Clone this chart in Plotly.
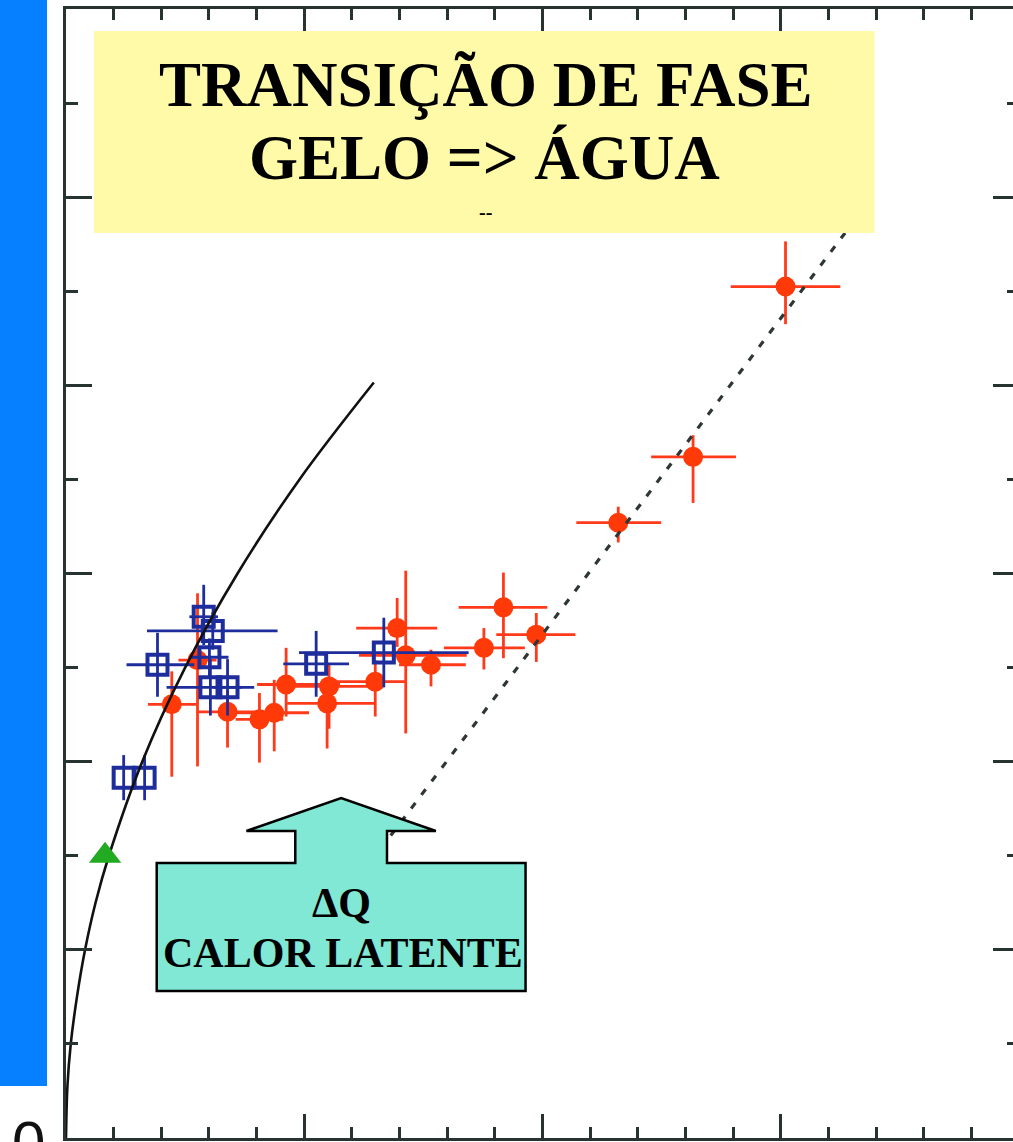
import plotly.graph_objects as go

# ---------------- data ----------------
# red filled circles: excitation energy (x) vs temperature (y)
red_x = [2.22, 2.76, 3.39, 4.06, 4.37, 4.62, 5.52, 5.48, 6.49, 6.95, 7.13, 7.66, 8.77, 9.18, 9.87, 11.59, 13.16, 15.10]
red_y = [4.61, 5.08, 4.53, 4.45, 4.52, 4.82, 4.80, 4.62, 4.85, 5.42, 5.13, 5.03, 5.21, 5.64, 5.35, 6.54, 7.24, 9.05]
red_xerr_minus = [0.50, 0.40, 0.63, 0.50, 0.94, 0.61, 0.94, 0.84, 0.96, 0.86, 0.98, 0.67, 0.84, 0.94, 0.84, 0.88, 0.88, 1.15]
red_xerr_plus = [0.52, 0.40, 1.00, 0.50, 0.73, 1.13, 1.11, 1.00, 0.65, 0.84, 1.28, 0.73, 0.86, 0.92, 0.82, 0.90, 0.90, 1.15]
red_yerr_plus = [0.35, 0.71, 0.23, 0.28, 0.35, 0.39, 0.25, 0.17, 0.23, 0.32, 0.90, 0.16, 0.21, 0.37, 0.23, 0.17, 0.23, 0.48]
red_yerr_minus = [0.77, 1.13, 0.38, 0.46, 0.41, 0.34, 0.45, 0.48, 0.37, 0.20, 0.83, 0.23, 0.23, 0.54, 0.29, 0.21, 0.49, 0.40]

# blue open squares
blue_x = [1.21, 1.65, 1.92, 2.89, 3.08, 3.01, 3.03, 3.39, 5.25, 6.67]
blue_y = [3.83, 3.83, 5.03, 5.54, 5.39, 5.11, 4.79, 4.79, 5.04, 5.16]
blue_xerr_minus = [0.0, 0.0, 0.65, 0.30, 1.38, 0.40, 0.92, 0.30, 0.69, 1.78]
blue_xerr_plus = [0.0, 0.0, 0.77, 0.30, 1.36, 0.40, 0.92, 0.30, 0.69, 1.78]
blue_yerr_plus = [0.24, 0.24, 0.34, 0.34, 0.20, 0.20, 0.30, 0.30, 0.35, 0.37]
blue_yerr_minus = [0.24, 0.24, 0.34, 0.30, 0.20, 0.20, 0.30, 0.30, 0.35, 0.37]

# green triangle
green_x = [0.82]
green_y = [3.00]

# solid black curve (Fermi-gas like)
curve_x = [0.0, 0.03, 0.10, 0.23, 0.40, 0.62, 0.90, 1.60, 2.50, 3.60, 4.90, 6.46]
curve_y = [0.0, 0.55, 1.00, 1.50, 2.00, 2.50, 3.00, 4.00, 5.00, 6.00, 7.00, 8.03]

# dashed straight line
dash_x = [6.60, 16.35]
dash_y = [3.07, 9.62]

# axis settings
x_range = [0, 20]
y_range = [0, 12]

title_line1 = "TRANSIÇÃO DE FASE"
title_line2 = "GELO => ÁGUA"
box_line1 = "ΔQ"
box_line2 = "CALOR LATENTE"

# ---------------- layout geometry ----------------
# the frame's right edge lies just beyond the visible window, as in the reference
W, H = 1022, 1142
ML, MR, MT, MB = 66, 0, 9, 4
PW, PH = W - ML - MR, H - MT - MB


def pxx(px):
    return (px - ML) / PW


def pxy(py):
    return (H - MB - py) / PH


RED = "#FF3A08"
RED_ERR = "#FF3A1A"
BLUE = "#1E2D9C"
AX = "#263330"

fig = go.Figure()

fig.add_trace(go.Scatter(
    x=red_x, y=red_y, mode="markers",
    marker=dict(color=RED, size=20, line=dict(width=0)),
    error_x=dict(type="data", symmetric=False, array=red_xerr_plus, arrayminus=red_xerr_minus,
                 color=RED_ERR, thickness=2.8, width=0),
    error_y=dict(type="data", symmetric=False, array=red_yerr_plus, arrayminus=red_yerr_minus,
                 color=RED_ERR, thickness=2.8, width=0),
    showlegend=False, hoverinfo="skip"))

fig.add_trace(go.Scatter(
    x=blue_x, y=blue_y, mode="markers",
    marker=dict(symbol="square-open", color=BLUE, size=20, line=dict(width=4, color=BLUE)),
    error_x=dict(type="data", symmetric=False, array=blue_xerr_plus, arrayminus=blue_xerr_minus,
                 color=BLUE, thickness=2.8, width=0),
    error_y=dict(type="data", symmetric=False, array=blue_yerr_plus, arrayminus=blue_yerr_minus,
                 color=BLUE, thickness=2.8, width=0),
    showlegend=False, hoverinfo="skip"))

fig.add_trace(go.Scatter(
    x=curve_x, y=curve_y, mode="lines",
    line=dict(color="#111111", width=2.6, shape="spline", smoothing=1.0),
    showlegend=False, hoverinfo="skip"))

fig.add_trace(go.Scatter(
    x=dash_x, y=dash_y, mode="lines",
    line=dict(color="#2E3636", width=3.2, dash="7px,10px"),
    showlegend=False, hoverinfo="skip"))

fig.add_trace(go.Scatter(
    x=green_x, y=green_y, mode="markers",
    marker=dict(symbol="triangle-up", color="#22AA22", size=28, line=dict(width=0)),
    showlegend=False, hoverinfo="skip"))

# ---------------- decorations ----------------
shapes = []
# blue bar on the left
shapes.append(dict(type="rect", xref="paper", yref="paper",
                   x0=pxx(-2), x1=pxx(47), y0=pxy(1086), y1=pxy(-2),
                   fillcolor="#0780FF", line=dict(width=0), layer="above"))
# yellow title box
shapes.append(dict(type="rect", xref="paper", yref="paper",
                   x0=pxx(94), x1=pxx(877), y0=pxy(233), y1=pxy(31),
                   fillcolor="#FFFAA8", line=dict(width=0), layer="above"))
# teal arrow box
pts = [(157, 863), (296, 863), (296, 831), (247, 831), (342, 798), (437, 831),
       (388, 831), (388, 863), (527, 863), (527, 991), (157, 991)]
path = "M " + " L ".join(f"{pxx(a):.5f},{pxy(b):.5f}" for a, b in pts) + " Z"
shapes.append(dict(type="path", xref="paper", yref="paper", path=path,
                   fillcolor="#80E8D4", line=dict(color="black", width=2.5), layer="above"))

serif = "Liberation Serif, Times New Roman, serif"
annotations = [
    dict(text=title_line1, x=pxx(487), y=pxy(85), xref="paper", yref="paper",
         showarrow=False, xanchor="center", yanchor="middle",
         font=dict(family=serif, size=63, color="black", weight="bold")),
    dict(text=title_line2, x=pxx(486), y=pxy(158), xref="paper", yref="paper",
         showarrow=False, xanchor="center", yanchor="middle",
         font=dict(family=serif, size=63, color="black", weight="bold")),
    dict(text="--", x=pxx(487), y=pxy(212), xref="paper", yref="paper",
         showarrow=False, xanchor="center", yanchor="middle",
         font=dict(family=serif, size=20, color="black", weight="bold")),
    dict(text=box_line1, x=pxx(342), y=pxy(903), xref="paper", yref="paper",
         showarrow=False, xanchor="center", yanchor="middle",
         font=dict(family=serif, size=42, color="black", weight="bold")),
    dict(text=box_line2, x=pxx(344), y=pxy(953), xref="paper", yref="paper",
         showarrow=False, xanchor="center", yanchor="middle",
         font=dict(family=serif, size=42, color="black", weight="bold")),
    dict(text="0", x=pxx(28), y=pxy(1142), xref="paper", yref="paper",
         showarrow=False, xanchor="center", yanchor="middle",
         font=dict(family="Liberation Sans, Arial, sans-serif", size=60, color="#111111")),
]

fig.update_layout(
    width=W, height=H,
    margin=dict(l=ML, r=MR, t=MT, b=MB, pad=0),
    paper_bgcolor="white", plot_bgcolor="white",
    shapes=shapes, annotations=annotations,
    showlegend=False,
)

fig.update_xaxes(
    range=x_range, showgrid=False, zeroline=False, showticklabels=False,
    showline=True, linecolor=AX, linewidth=3, mirror="ticks",
    ticks="inside", tick0=0, dtick=5, ticklen=24, tickwidth=2.5, tickcolor=AX,
    minor=dict(ticks="inside", dtick=1, ticklen=11, tickwidth=2.5, tickcolor=AX, showgrid=False),
)
fig.update_yaxes(
    range=y_range, showgrid=False, zeroline=False, showticklabels=False,
    showline=True, linecolor=AX, linewidth=3, mirror="ticks",
    ticks="inside", tick0=0, dtick=2, ticklen=26, tickwidth=2.5, tickcolor=AX,
    minor=dict(ticks="inside", dtick=1, ticklen=12, tickwidth=2.5, tickcolor=AX, showgrid=False),
)

fig.write_html(
    "out.html",
    config={"displayModeBar": False},
    post_script="document.body.style.margin='0px';document.body.style.overflow='hidden';",
)
